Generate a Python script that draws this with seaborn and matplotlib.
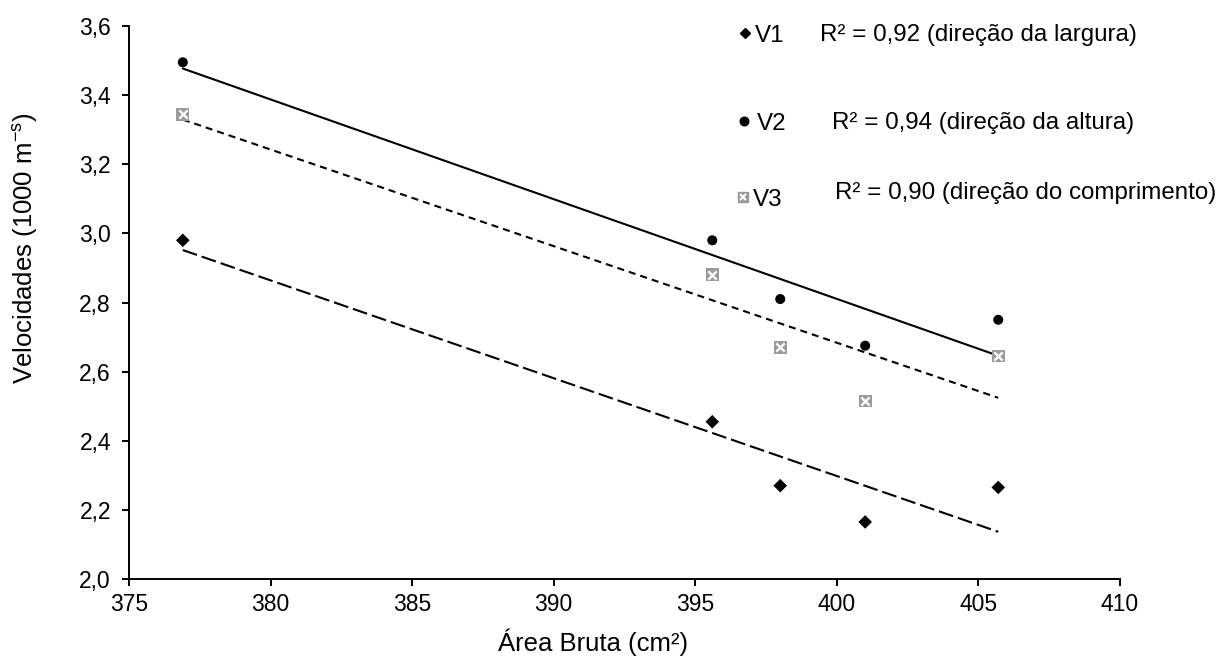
import numpy as np
import pandas as pd
import matplotlib
matplotlib.use("Agg")
import matplotlib.pyplot as plt
import seaborn as sns
from matplotlib.lines import Line2D
from matplotlib.ticker import FuncFormatter, MultipleLocator

# Gross area of the specimens and wave velocities in three directions
area = [376.9, 395.6, 398.0, 401.0, 405.7]
v1 = [2.98, 2.455, 2.27, 2.165, 2.265]   # width direction
v2 = [3.495, 2.98, 2.81, 2.675, 2.75]    # height direction
v3 = [3.345, 2.88, 2.67, 2.515, 2.645]   # length direction

series_names = ["V1", "V2", "V3"]
r2_labels = [
    "R\u00b2 = 0,92 (direção da largura)",
    "R\u00b2 = 0,94 (direção da altura)",
    "R\u00b2 = 0,90 (direção do comprimento)",
]
x_label = "Área Bruta (cm\u00b2)"
y_label = r"Velocidades (1000 m$^{\mathregular{-s}}$)"

df = pd.DataFrame({"area": area, "V1": v1, "V2": v2, "V3": v3})

sns.set_style("white")
plt.rcParams["font.family"] = ["Liberation Sans", "DejaVu Sans"]
plt.rcParams["mathtext.default"] = "regular"

W, H = 1218, 671
fig = plt.figure(figsize=(W / 100, H / 100), dpi=100)
ax = fig.add_axes([129 / W, 1 - 579 / H, 991 / W, 553 / H])

GRAY = "#9a9a9a"

# Linear trend lines
sns.regplot(data=df, x="area", y="V1", ax=ax, scatter=False, ci=None, truncate=True,
            line_kws=dict(color="black", lw=1.5, dashes=(7.2, 2.4)))
sns.regplot(data=df, x="area", y="V2", ax=ax, scatter=False, ci=None, truncate=True,
            line_kws=dict(color="black", lw=1.5))
sns.regplot(data=df, x="area", y="V3", ax=ax, scatter=False, ci=None, truncate=True,
            line_kws=dict(color="black", lw=1.5, dashes=(3.4, 2.4)))

# Observed points
sns.scatterplot(data=df, x="area", y="V1", ax=ax, marker="D", s=48, color="black",
                edgecolor="none", zorder=5)
sns.scatterplot(data=df, x="area", y="V2", ax=ax, marker="o", s=52, color="black",
                edgecolor="none", zorder=5)
sns.scatterplot(data=df, x="area", y="V3", ax=ax, marker="s", s=85, color=GRAY,
                edgecolor="none", zorder=5)
sns.scatterplot(data=df, x="area", y="V3", ax=ax, marker="x", s=36, color="white",
                linewidth=1.7, zorder=6)

ax.set_xlim(375, 410)
ax.set_ylim(2.0, 3.6)
ax.xaxis.set_major_locator(MultipleLocator(5))
ax.yaxis.set_major_locator(MultipleLocator(0.2))
ax.yaxis.set_major_formatter(FuncFormatter(lambda v, p: f"{v:.1f}".replace(".", ",")))
ax.xaxis.set_major_formatter(FuncFormatter(lambda v, p: f"{v:.0f}"))

for side in ("top", "right"):
    ax.spines[side].set_visible(False)
for side in ("left", "bottom"):
    ax.spines[side].set_color("black")
    ax.spines[side].set_linewidth(1.4)
ax.tick_params(axis="both", which="major", direction="out", length=5, width=1.4,
               color="black", labelsize=16.5, labelcolor="black",
               bottom=True, left=True)
ax.tick_params(axis="x", pad=5)
ax.tick_params(axis="y", pad=8)

ax.set_xlabel(x_label, fontsize=18.5, color="black")
ax.set_ylabel(y_label, fontsize=18.5, color="black")
ax.xaxis.set_label_coords((593 - 129) / 991, (579 - 628) / 553)
ax.yaxis.set_label_coords((40 - 129) / 991, (579 - 248) / 553)

# Series key with marker symbols
key_rows = [
    dict(y=33, mx=745, tx=755, handles=[dict(marker="D", ms=5.5, color="black")]),
    dict(y=121, mx=744, tx=757, handles=[dict(marker="o", ms=6.2, color="black")]),
    dict(y=197, mx=743, tx=753, handles=[dict(marker="s", ms=7.8, color=GRAY),
                                         dict(marker="x", ms=5, mew=1.5, color="white")]),
]
for row, name in zip(key_rows, series_names):
    fy = 1 - row["y"] / H
    for h in row["handles"]:
        fig.add_artist(Line2D([row["mx"] / W], [fy], transform=fig.transFigure,
                              ls="none", **h))
    fig.text(row["tx"] / W, fy, name, fontsize=17.4, color="black",
             ha="left", va="center_baseline")

# Coefficients of determination
r2_pos = [(820, 33), (832, 121), (835, 191)]
for (px, py), txt in zip(r2_pos, r2_labels):
    fig.text(px / W, 1 - py / H, txt, fontsize=17.4, color="black",
             ha="left", va="center_baseline")

fig.savefig("out.png", dpi=100)
